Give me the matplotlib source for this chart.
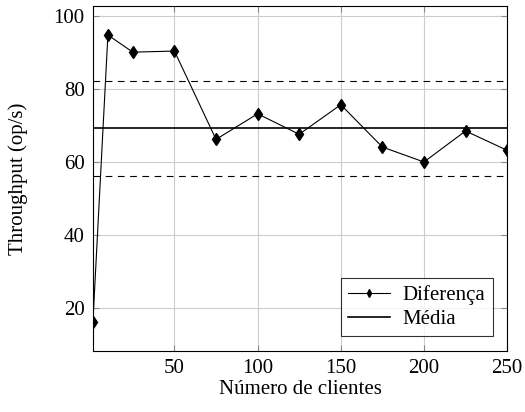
import matplotlib
matplotlib.use("Agg")
from matplotlib import pyplot as plt

# Throughput per number of clients
clientes = [1, 10, 25, 50, 75, 100, 125, 150, 175, 200, 225, 250]
throughput = [16.2, 94.8, 90.1, 90.4, 66.2, 73.2, 67.6, 75.7, 64.1, 60.0, 68.5, 63.2]
media = 69.2
limite_sup = 82.2
limite_inf = 56.2

plt.rcParams["font.family"] = ["Liberation Serif", "DejaVu Serif"]
plt.rcParams["font.size"] = 15

fig = plt.figure(figsize=(5.25, 4.12), dpi=100)
ax = fig.add_axes([0.177, 0.148, 0.789, 0.837])

ax.grid(True, color="#cccccc", linewidth=0.8)
ax.set_axisbelow(True)

ax.plot(clientes, throughput, color="black", linewidth=0.8, marker="d",
        markersize=6.5, label="Diferença", zorder=3)
ax.axhline(media, color="black", linewidth=1.2, label="Média", zorder=2)
ax.axhline(limite_sup, color="black", linewidth=0.8, linestyle=(0, (6, 5)), zorder=2)
ax.axhline(limite_inf, color="black", linewidth=0.8, linestyle=(0, (6, 5)), zorder=2)

ax.set_xlim(1, 250)
ax.set_ylim(8.2, 102.7)
ax.set_xticks([50, 100, 150, 200, 250])
ax.set_yticks([20, 40, 60, 80, 100])
ax.tick_params(direction="in", top=True, right=True, length=4,
               color="#888888", labelsize=15, pad=6)

ax.set_xlabel("Número de clientes", fontsize=15, labelpad=1)
ax.set_ylabel("Throughput (op/s)", fontsize=15, labelpad=18)

leg = ax.legend(loc="lower right", frameon=True, fancybox=False,
                edgecolor="black", fontsize=15, handlelength=2.0,
                handletextpad=0.6, borderpad=0.35, labelspacing=0.2,
                borderaxespad=0.7, markerscale=0.6)
leg.get_frame().set_linewidth(0.8)

fig.savefig("out.png", dpi=100)
